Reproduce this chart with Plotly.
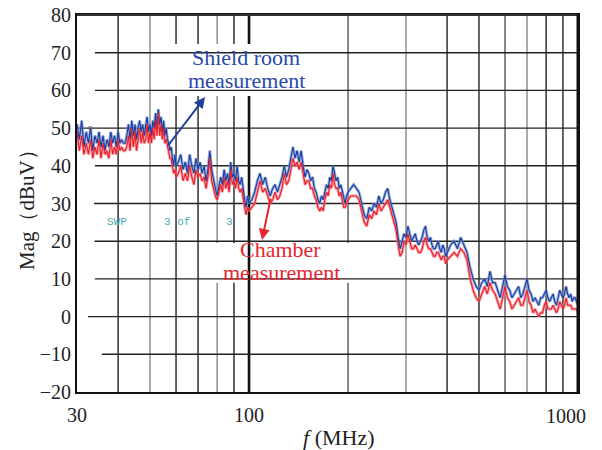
import plotly.graph_objects as go

# ---------------- data ----------------
freq_mhz = [
    30, 30.5, 31, 31.5, 32, 32.5, 33, 33.5, 34, 34.5, 35, 35.5, 36, 36.5, 37, 37.5, 38, 38.5, 39, 39.5,
    40, 40.5, 41, 41.5, 42, 42.5, 43, 43.5, 44, 44.5, 45, 45.5, 46, 46.5, 47, 47.5, 48, 48.5, 49, 49.5,
    50, 50.5, 51, 51.5, 52, 52.5, 53, 53.5, 54, 54.5, 55, 55.5, 56, 56.5, 57, 57.5, 58, 58.5, 59, 59.5, 60,
    61, 62, 63, 64, 65, 66, 67, 68, 69, 70, 71, 72, 73, 74, 75, 76, 77, 78, 79, 80,
    81, 82, 83, 84, 85, 86, 87, 88, 89, 90, 91, 92, 93, 94, 95, 96, 97, 98, 99, 100,
    102, 104, 106, 108, 110, 112, 114, 116, 118, 120, 122, 124, 126, 128, 130, 132, 134, 136, 138, 140,
    142, 144, 146, 148, 150, 152, 154, 156, 158, 160, 162, 164, 166, 168, 170, 172, 174, 176, 178, 180,
    182, 184, 186, 188, 190, 192, 194, 196, 198, 200,
    204, 208, 212, 216, 220, 224, 228, 232, 236, 240, 244, 248, 252, 256, 260, 264, 268, 272, 276, 280,
    284, 288, 292, 296, 300, 304, 308, 312, 316, 320, 324, 328, 332, 336, 340, 344, 348, 352, 356, 360,
    364, 368, 372, 376, 380, 384, 388, 392, 396, 400,
    410, 420, 430, 440, 450, 460, 470, 480, 490, 500, 510, 520, 530, 540, 550, 560, 570, 580, 590, 600,
    610, 620, 630, 640, 650, 660, 670, 680, 690, 700, 710, 720, 730, 740, 750, 760, 770, 780, 790, 800,
    810, 820, 830, 840, 850, 860, 870, 880, 890, 900, 910, 920, 930, 940, 950, 960, 970, 980, 990, 1000,
]

shield_room_db = [
    51, 47, 52, 45, 49, 46, 50, 44, 48, 46, 49, 45, 48, 44, 47, 45, 49, 46, 48, 45,
    49, 46, 47, 46, 46, 48, 51, 47, 52, 48, 51, 47, 50, 52, 49, 51, 48, 50, 53, 49,
    51, 48, 52, 50, 54, 50, 55, 51, 53, 49, 52, 48, 50, 47, 46, 44, 45, 42, 40, 43, 40,
    41, 43, 39, 41, 38, 43, 40, 38, 42, 39, 41, 38, 40, 36, 39, 44, 39, 36, 34, 32,
    35, 37, 35, 39, 36, 38, 35, 41, 37, 38, 36, 40, 36, 35, 37, 33, 31, 29, 32, 30,
    31, 33, 36, 38, 35, 37, 34, 32, 34, 35, 33, 35, 37, 40, 37, 39, 42, 45, 42, 44,
    41, 44, 40, 37, 39, 38, 36, 37, 34, 33, 31, 30, 32, 31, 33, 35, 34, 37, 36, 40,
    38, 36, 37, 34, 35, 33, 31, 30, 32, 33,
    34, 35, 34, 33, 30, 27, 26, 29, 28, 30, 29, 32, 30, 31, 33, 34, 31, 29, 27, 25,
    21, 18, 20, 22, 21, 24, 22, 20, 21, 22, 20, 19, 20, 21, 23, 24, 21, 20, 21, 19,
    18, 18, 19, 20, 18, 17, 19, 18, 16, 17,
    19, 20, 18, 21, 19, 17, 13, 10, 8, 7, 9, 10, 8, 12, 9, 9, 7, 5, 8, 11,
    8, 7, 5, 6, 7, 8, 5, 6, 8, 10, 7, 6, 4, 5, 4, 3, 5, 5, 6, 7,
    5, 4, 5, 6, 4, 3, 5, 7, 6, 5, 6, 8, 6, 5, 6, 4, 5, 5, 4, 3,
]

chamber_db = [
    49, 44, 48, 43, 46, 43, 47, 42, 45, 43, 47, 42, 46, 43, 44, 42, 47, 43, 45, 43,
    47, 44, 45, 44, 44, 45, 48, 44, 50, 45, 49, 44, 47, 50, 46, 49, 46, 47, 51, 46,
    49, 46, 50, 47, 52, 48, 54, 48, 51, 47, 50, 46, 47, 45, 44, 42, 42, 40, 38, 39, 37,
    38, 40, 36, 38, 36, 40, 37, 35, 39, 37, 38, 36, 37, 34, 37, 42, 36, 34, 32, 31,
    33, 35, 33, 37, 34, 36, 33, 39, 35, 36, 34, 37, 34, 33, 34, 31, 29, 27, 29, 28,
    29, 30, 33, 36, 33, 34, 32, 30, 31, 33, 31, 32, 34, 38, 35, 36, 39, 42, 40, 41,
    39, 41, 38, 35, 36, 36, 34, 34, 32, 31, 29, 28, 29, 28, 31, 33, 32, 35, 34, 38,
    35, 34, 34, 32, 33, 31, 29, 29, 30, 31,
    32, 32, 32, 31, 28, 25, 24, 27, 26, 28, 27, 30, 28, 29, 30, 31, 29, 27, 25, 23,
    19, 16, 17, 20, 19, 22, 20, 18, 18, 19, 18, 17, 17, 18, 20, 21, 19, 18, 18, 17,
    16, 16, 17, 17, 16, 15, 16, 16, 14, 15,
    16, 17, 16, 18, 17, 15, 10, 7, 5, 4, 6, 8, 6, 9, 7, 6, 4, 2, 5, 8,
    5, 4, 2, 3, 4, 5, 3, 3, 5, 7, 4, 3, 1, 2, 1, 0, 1, 1, 3, 4,
    2, 2, 2, 3, 2, 1, 2, 4, 3, 2, 3, 5, 3, 3, 3, 2, 2, 2, 2, 1,
]

assert len(freq_mhz) == len(shield_room_db) == len(chamber_db)

x_tick_vals = [30, 100, 1000]
x_tick_text = ["30", "100", ""]          # "1000" is placed as its own label below
y_tick_vals = [-20, -10, 0, 10, 20, 30, 40, 50, 60, 70, 80]

v_grid = [40, 50, 60, 70, 80, 90, 200, 300, 400, 500, 600, 700, 800, 900]
v_grid_color = ["#222", "#888", "#222", "#222", "#888", "#222", "#555", "#888", "#222", "#222",
                "#555", "#888", "#222", "#222"]
h_grid = [-10, 0, 10, 20, 30, 40, 50, 60, 70]
h_grid_start = [35.7, 32.4, 34, 33.9, 33.8, 34, 30, 34, 34]

BLUE = "#1d3d9c"
BLUE_LIGHT = "rgba(120,150,215,0.75)"
RED = "#e8202a"
RED_LIGHT = "rgba(245,120,130,0.7)"
SERIF = "Liberation Serif, Times New Roman, serif"
MONO = "Liberation Mono, monospace"

fig = go.Figure()
fig.add_trace(go.Scatter(x=freq_mhz, y=shield_room_db, mode="lines",
                         line=dict(color=BLUE_LIGHT, width=3), hoverinfo="skip", showlegend=False))
fig.add_trace(go.Scatter(x=freq_mhz, y=chamber_db, mode="lines",
                         line=dict(color=RED_LIGHT, width=3), hoverinfo="skip", showlegend=False))
fig.add_trace(go.Scatter(x=freq_mhz, y=shield_room_db, mode="lines", name="Shield room measurement",
                         line=dict(color=BLUE, width=1.1), showlegend=False))
fig.add_trace(go.Scatter(x=freq_mhz, y=chamber_db, mode="lines", name="Chamber measurement",
                         line=dict(color=RED, width=1.1), showlegend=False))

shapes = []
for v, c in zip(v_grid, v_grid_color):
    shapes.append(dict(type="line", xref="x", yref="paper", x0=v, x1=v, y0=0, y1=1,
                       line=dict(color=c, width=1.4), layer="below"))
for h, s in zip(h_grid, h_grid_start):
    shapes.append(dict(type="line", xref="x", yref="y", x0=s, x1=1000, y0=h, y1=h,
                       line=dict(color="#222", width=1.4), layer="below"))
# white box behind the chamber label
shapes.append(dict(type="rect", xref="paper", yref="paper", x0=0.2435, x1=0.569, y0=0.290, y1=0.395,
                   fillcolor="white", line=dict(width=0), layer="below"))
# the heavy 100 MHz line
shapes.append(dict(type="line", xref="x", yref="paper", x0=100, x1=100, y0=0, y1=1,
                   line=dict(color="#111", width=2.6), layer="below"))
# white box behind the shield-room label
shapes.append(dict(type="rect", xref="paper", yref="paper", x0=0.170, x1=0.499, y0=0.785, y1=0.923,
                   fillcolor="white", line=dict(width=0), layer="below"))
# plot frame (top darker grey, right heavy)
shapes.append(dict(type="line", xref="paper", yref="paper", x0=0, x1=1, y0=1, y1=1,
                   line=dict(color="#333", width=2.2), layer="above"))
shapes.append(dict(type="line", xref="paper", yref="paper", x0=1, x1=1, y0=0, y1=1,
                   line=dict(color="#111", width=3), layer="above"))


def px(xs):
    return (xs - 77) / 501


def py(ys):
    return (392 - ys) / 377


def note(x, y, text, size, color, family=SERIF, **kw):
    return dict(xref="paper", yref="paper", x=x, y=y, text=text, showarrow=False,
                xanchor="center", yanchor="middle",
                font=dict(family=family, size=size, color=color), **kw)


annotations = [
    note(px(246), py(58), "Shield room", 22, "#2a4aa8"),
    note(px(246), py(81), "measurement", 22, "#2a4aa8"),
    note(px(280), py(249), "Chamber", 22, "#e8262e"),
    note(px(281), py(272), "measurement", 22, "#e8262e"),
    dict(xref="paper", yref="paper", x=px(205), y=py(97), text="",
         showarrow=True, ax=-38, ay=50, arrowhead=2, arrowsize=1.1, arrowwidth=2, arrowcolor="#2040a0"),
    dict(xref="paper", yref="paper", x=px(262), y=py(240), text="",
         showarrow=True, ax=9, ay=-43, arrowhead=2, arrowsize=1.1, arrowwidth=2, arrowcolor="#e8262e"),
    note(px(117), py(222), "SWP", 11, "#4aa8b0", MONO),
    note(px(177), py(222), "3 of", 11, "#4aa8b0", MONO),
    note(px(229), py(222), "3", 11, "#4aa8b0", MONO),
    note(px(90), py(127), "o", 8, "#555", MONO),
    note(px(566), py(416), "1000", 20, "#222"),
    note(px(339), py(437), "<i>f</i>\u00a0(MHz)", 22, "#222"),
    note(px(27), py(205), "Mag（dBuV）", 21, "#222", textangle=-90),
]

fig.update_layout(
    width=602, height=450,
    margin=dict(l=77, r=24, t=15, b=58, autoexpand=False),
    paper_bgcolor="white", plot_bgcolor="white",
    shapes=shapes, annotations=annotations,
    font=dict(family=SERIF, size=20, color="#222"),
    xaxis=dict(type="log", range=[1.4771, 3.0], tickvals=x_tick_vals, ticktext=x_tick_text,
               showgrid=False, zeroline=False, showline=True, mirror=True, automargin=False,
               linecolor="#111", linewidth=2, ticks="", ticklabelstandoff=4,
               tickfont=dict(family=SERIF, size=20, color="#222")),
    yaxis=dict(range=[-20, 80], tickvals=y_tick_vals, showgrid=False, zeroline=False,
               showline=True, mirror=True, automargin=False, linecolor="#111", linewidth=2, ticks="",
               tickfont=dict(family=SERIF, size=20, color="#222")),
)

fig.write_html("out.html", config={"displayModeBar": False},
               post_script="document.body.style.margin='0';")
